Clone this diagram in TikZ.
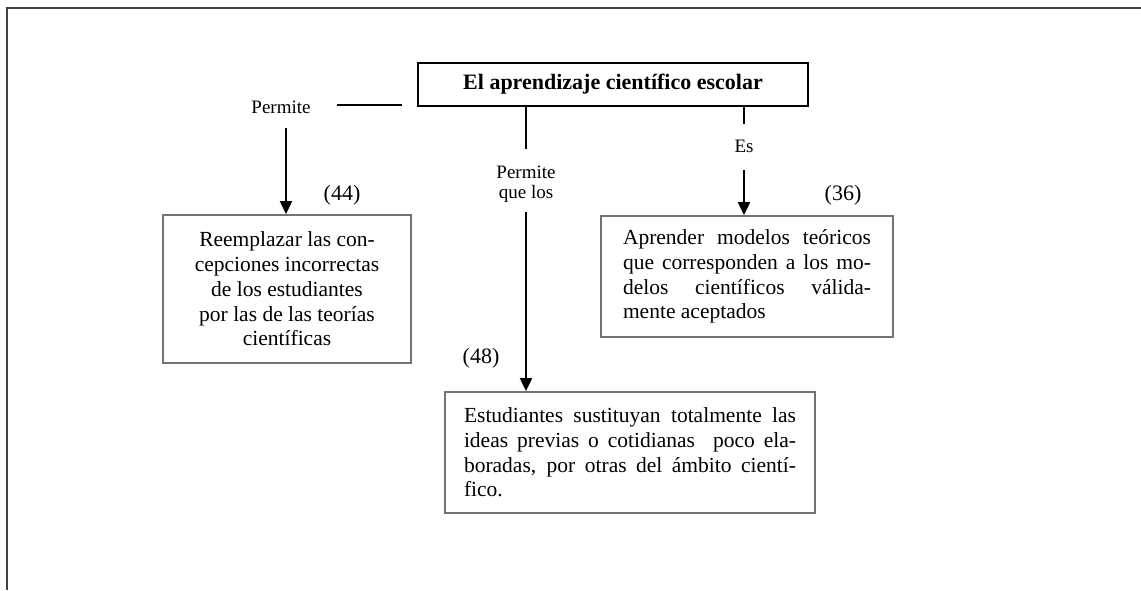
\documentclass[tikz,border=0pt]{standalone}
\usepackage{fontspec}
\setmainfont{Liberation Serif}
\usetikzlibrary{arrows.meta}
\definecolor{boxgray}{gray}{0.45}
\definecolor{framecol}{gray}{0.25}
\begin{document}
\begin{tikzpicture}[x=1pt,y=-1pt,
  boxtext/.style={font=\fontsize{21.5}{24.7}\selectfont},
  conbox/.style={draw=boxgray, line width=1.8pt, inner sep=0pt, boxtext},
  conn/.style={line width=2pt},
  arr/.style={conn, -{Triangle[length=13pt,width=12pt]}},
  lbl/.style={font=\fontsize{19}{22}\selectfont, inner sep=0pt},
  num/.style={font=\fontsize{22}{24}\selectfont, inner sep=0pt}]

\useasboundingbox (0,0) rectangle (1141,590);
\draw[framecol, line width=1.3pt] (1141,8) -- (7,8) -- (7,590);

% nodes
\node[draw, line width=1.8pt, minimum width=390pt, minimum height=43pt, inner sep=0pt,
      font=\bfseries\fontsize{22}{24}\selectfont] (title) at (613,84.5)
      {El aprendizaje científico escolar};

\node[conbox, minimum width=248pt, minimum height=148pt, align=center] (reem) at (287,289)
  {Reemplazar las con-\\cepciones incorrectas\\de los estudiantes\\por las de las teorías\\científicas};

\node[conbox, minimum width=292pt, minimum height=121pt, inner xsep=22pt, align=left] (apr) at (747,276.5)
  {\makebox[248pt][s]{Aprender modelos teóricos}\\
   \makebox[248pt][s]{que corresponden a los mo-}\\
   \makebox[248pt][s]{delos científicos válida-}\\
   mente aceptados};

\node[conbox, minimum width=370pt, minimum height=121pt, inner xsep=19pt, align=left] (est) at (630,452.5)
  {\makebox[332pt][s]{Estudiantes sustituyan totalmente las}\\
   \makebox[332pt][s]{ideas previas o cotidianas\ \ poco ela-}\\
   \makebox[332pt][s]{boradas, por otras del ámbito cientí-}\\
   fico.};

% labels
\node[lbl] (permA) at (281,107) {Permite};
\node[lbl] (permB) at (526,172) {Permite};
\node[lbl] (quelos) at (526,194) {que los};
\node[lbl] (es) at (744,146) {Es};
\node[num] (n44) at (342,195) {(44)};
\node[num] (n36) at (843,195) {(36)};
\node[num] (n48) at (481,358) {(48)};

% connectors
\coordinate (hlA) at (337,105);
\coordinate (hlB) at (402,105);
\draw[conn] (hlA) -- (hlB);

\coordinate (la) at (286,128);
\draw[arr] (la) -- (reem.north -| la);

\coordinate (c1) at (526,149);
\draw[conn] (title.south -| c1) -- (c1);
\coordinate (c2) at (526,212);
\draw[arr] (c2) -- (est.north -| c2);

\coordinate (e1) at (744,124);
\draw[conn] (title.south -| e1) -- (e1);
\coordinate (e2) at (744,170);
\draw[arr] (e2) -- (apr.north -| e2);
\end{tikzpicture}
\end{document}
